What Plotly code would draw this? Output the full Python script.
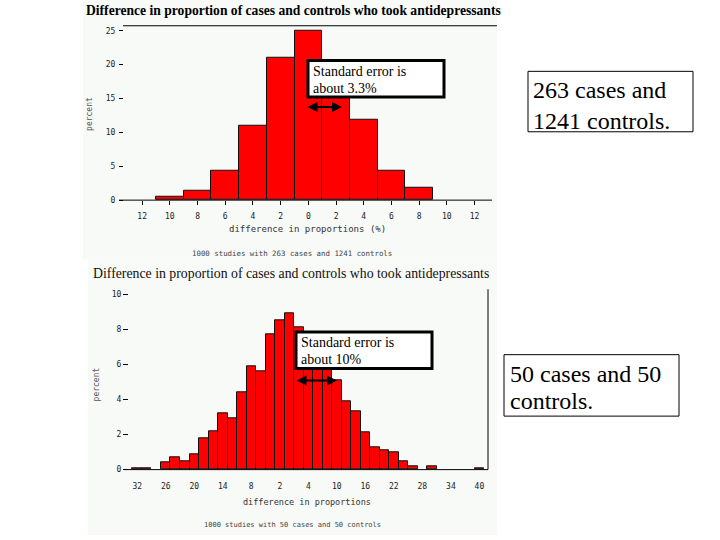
import plotly.graph_objects as go

W, H = 720, 540

# ---- Top histogram: 263 cases and 1241 controls (percent of 1000 studies) ----
top_bins = [-10, -8, -6, -4, -2, 0, 2, 4, 6, 8]
top_percent = [0.5, 1.4, 4.4, 11.0, 21.0, 25.0, 19.0, 11.8, 4.4, 1.8]
top_tickvals = [-12, -10, -8, -6, -4, -2, 0, 2, 4, 6, 8, 10, 12]
top_ticktext = ["12", "10", "8", "6", "4", "2", "0", "2", "4", "6", "8", "10", "12"]
top_yticks = [0, 5, 10, 15, 20, 25]

# ---- Bottom histogram: 50 cases and 50 controls ----
bot_bins = [-32, -30, -26, -24, -22, -20, -18, -16, -14, -12, -10, -8, -6, -4, -2, 0,
            2, 4, 6, 8, 10, 12, 14, 16, 18, 20, 22, 24, 26, 30, 40]
bot_percent = [0.1, 0.1, 0.4, 0.7, 0.5, 0.9, 1.8, 2.2, 3.2, 2.9, 4.4, 5.9, 5.6, 7.7, 8.5, 8.9,
               8.1, 7.0, 6.4, 5.9, 5.1, 3.9, 3.3, 2.1, 1.3, 1.1, 1.0, 0.5, 0.2, 0.2, 0.1]
bot_tickvals = [-32, -26, -20, -14, -8, -2, 4, 10, 16, 22, 28, 34, 40]
bot_ticktext = ["32", "26", "20", "14", "8", "2", "4", "10", "16", "22", "28", "34", "40"]
bot_yticks = [0, 2, 4, 6, 8, 10]

title_text = "Difference in proportion of cases and controls who took antidepressants"
top_note = ["Standard error is", "about 3.3%"]
bot_note = ["Standard error is", "about 10%"]
top_side = ["263 cases and", "1241 controls."]
bot_side = ["50 cases and 50", "controls."]


def fx(px):
    return px / W


def fy(py):
    return 1 - py / H


BAR_RED = "#ff0000"
tickfont = dict(family="DejaVu Sans Mono", size=8, color="#222222")

fig = go.Figure()
fig.add_trace(go.Bar(x=top_bins, y=top_percent, width=2, xaxis="x", yaxis="y",
                     marker=dict(color=BAR_RED, line=dict(color="#111111", width=1)),
                     showlegend=False))
fig.add_trace(go.Bar(x=bot_bins, y=bot_percent, width=2, xaxis="x2", yaxis="y2",
                     marker=dict(color=BAR_RED, line=dict(color="#111111", width=1)),
                     showlegend=False))

common = dict(showgrid=False, zeroline=False, showline=False, fixedrange=True)

fig.update_layout(
    width=W, height=H,
    margin=dict(l=0, r=0, t=0, b=0),
    paper_bgcolor="white",
    plot_bgcolor="rgba(0,0,0,0)",
    bargap=0,
    xaxis=dict(domain=[fx(124), fx(492)], range=[-13.31, 13.26], anchor="y",
               tickvals=top_tickvals, ticktext=top_ticktext, ticks="outside",
               ticklen=4, tickcolor="black", tickfont=tickfont, ticklabelstandoff=4, **common),
    yaxis=dict(domain=[fy(202), fy(26)], range=[0, 25.73], anchor="x",
               tickvals=top_yticks, ticks="outside", ticklen=4, tickcolor="black",
               tickfont=tickfont, ticklabelstandoff=2, **common),
    xaxis2=dict(domain=[fx(129), fx(488)], range=[-33.73, 41.81], anchor="y2",
                tickvals=bot_tickvals, ticktext=bot_ticktext, ticks="outside",
                ticklen=9, tickcolor="rgba(0,0,0,0)", tickfont=tickfont, **common),
    yaxis2=dict(domain=[fy(474), fy(292)], range=[0, 10.28], anchor="x2",
                tickvals=bot_yticks, ticks="outside", ticklen=5, tickcolor="black",
                tickfont=tickfont, **common),
)

shapes = [
    # faint off-white backgrounds of the two pasted chart images
    dict(type="rect", xref="paper", yref="paper", x0=fx(83), x1=fx(497), y0=fy(262), y1=fy(0),
         fillcolor="#f7faf7", line=dict(width=0), layer="below"),
    dict(type="rect", xref="paper", yref="paper", x0=fx(88), x1=fx(497), y0=fy(540), y1=fy(262),
         fillcolor="#f7faf7", line=dict(width=0), layer="below"),
    # axis lines / frame remnants
    dict(type="line", xref="paper", yref="paper", x0=fx(119), x1=fx(492), y0=fy(202), y1=fy(202),
         line=dict(color="black", width=1)),
    dict(type="line", xref="paper", yref="paper", x0=fx(123), x1=fx(497), y0=fy(26), y1=fy(26),
         line=dict(color="black", width=1)),
    dict(type="line", xref="paper", yref="paper", x0=fx(124), x1=fx(488), y0=fy(474), y1=fy(474),
         line=dict(color="black", width=1)),
    dict(type="line", xref="paper", yref="paper", x0=fx(488), x1=fx(488), y0=fy(474), y1=fy(292),
         line=dict(color="black", width=1)),
    # standard error callout boxes
    dict(type="rect", xref="paper", yref="paper", x0=fx(308), x1=fx(444), y0=fy(98), y1=fy(61),
         fillcolor="white", line=dict(color="black", width=3)),
    dict(type="rect", xref="paper", yref="paper", x0=fx(296), x1=fx(432), y0=fy(372), y1=fy(335),
         fillcolor="white", line=dict(color="black", width=3)),
    # side text boxes
    dict(type="rect", xref="paper", yref="paper", x0=fx(528), x1=fx(693), y0=fy(133), y1=fy(72),
         fillcolor="white", line=dict(color="black", width=1)),
    dict(type="rect", xref="paper", yref="paper", x0=fx(504), x1=fx(679), y0=fy(420), y1=fy(358),
         fillcolor="white", line=dict(color="black", width=1)),
]
fig.update_layout(shapes=shapes)

ann = []


def text(px, py, s, size, family="Liberation Serif", color="black", xanchor="left",
         bold=False, angle=0):
    ann.append(dict(xref="paper", yref="paper", x=fx(px), y=fy(py),
                    text=("<b>%s</b>" % s) if bold else s,
                    showarrow=False, xanchor=xanchor, yanchor="middle", textangle=angle,
                    font=dict(family=family, size=size, color=color)))


# titles
text(84, 11, title_text, 13.6, bold=True)
text(91, 276, title_text, 13.8, color="#111111")
# axis titles & captions
text(307, 231, "difference in proportions (%)", 9, family="DejaVu Sans Mono", color="#333333",
     xanchor="center")
text(307, 507, "difference in proportions", 8.5, family="DejaVu Sans Mono", color="#333333",
     xanchor="center")
text(292, 256, "1000 studies with 263 cases and 1241 controls", 7.4, family="DejaVu Sans Mono",
     color="#444444", xanchor="center")
text(292, 530, "1000 studies with 50 cases and 50 controls", 7, family="DejaVu Sans Mono",
     color="#444444", xanchor="center")
text(90, 115, "percent", 8, family="DejaVu Sans Mono", color="#555555", xanchor="center", angle=-90)
text(96, 388, "percent", 8, family="DejaVu Sans Mono", color="#555555", xanchor="center", angle=-90)
# callout texts
text(311, 72, top_note[0], 14)
text(311, 89, top_note[1], 14)
text(299, 346, bot_note[0], 14)
text(299, 363, bot_note[1], 14)
# side texts
text(531, 91, top_side[0], 24)
text(531, 122, top_side[1], 24)
text(508, 377, bot_side[0], 24)
text(508, 405, bot_side[1], 24)

# double-headed arrows
for (x0, x1, y) in [(306, 342, 108), (295, 337, 384)]:
    ann.append(dict(xref="paper", yref="paper", x=fx(x1), y=fy(y), ax=x0 - x1, ay=0,
                    axref="pixel", ayref="pixel", text="", showarrow=True,
                    arrowhead=2, startarrowhead=2, arrowside="end+start",
                    arrowsize=1, arrowwidth=2, arrowcolor="black"))

fig.update_layout(annotations=ann)

# remove the default 8px page margin so the 720x540 figure fills the window exactly
fig.write_html("out.html", config={"displayModeBar": False},
               post_script="document.body.style.margin='0px';")
